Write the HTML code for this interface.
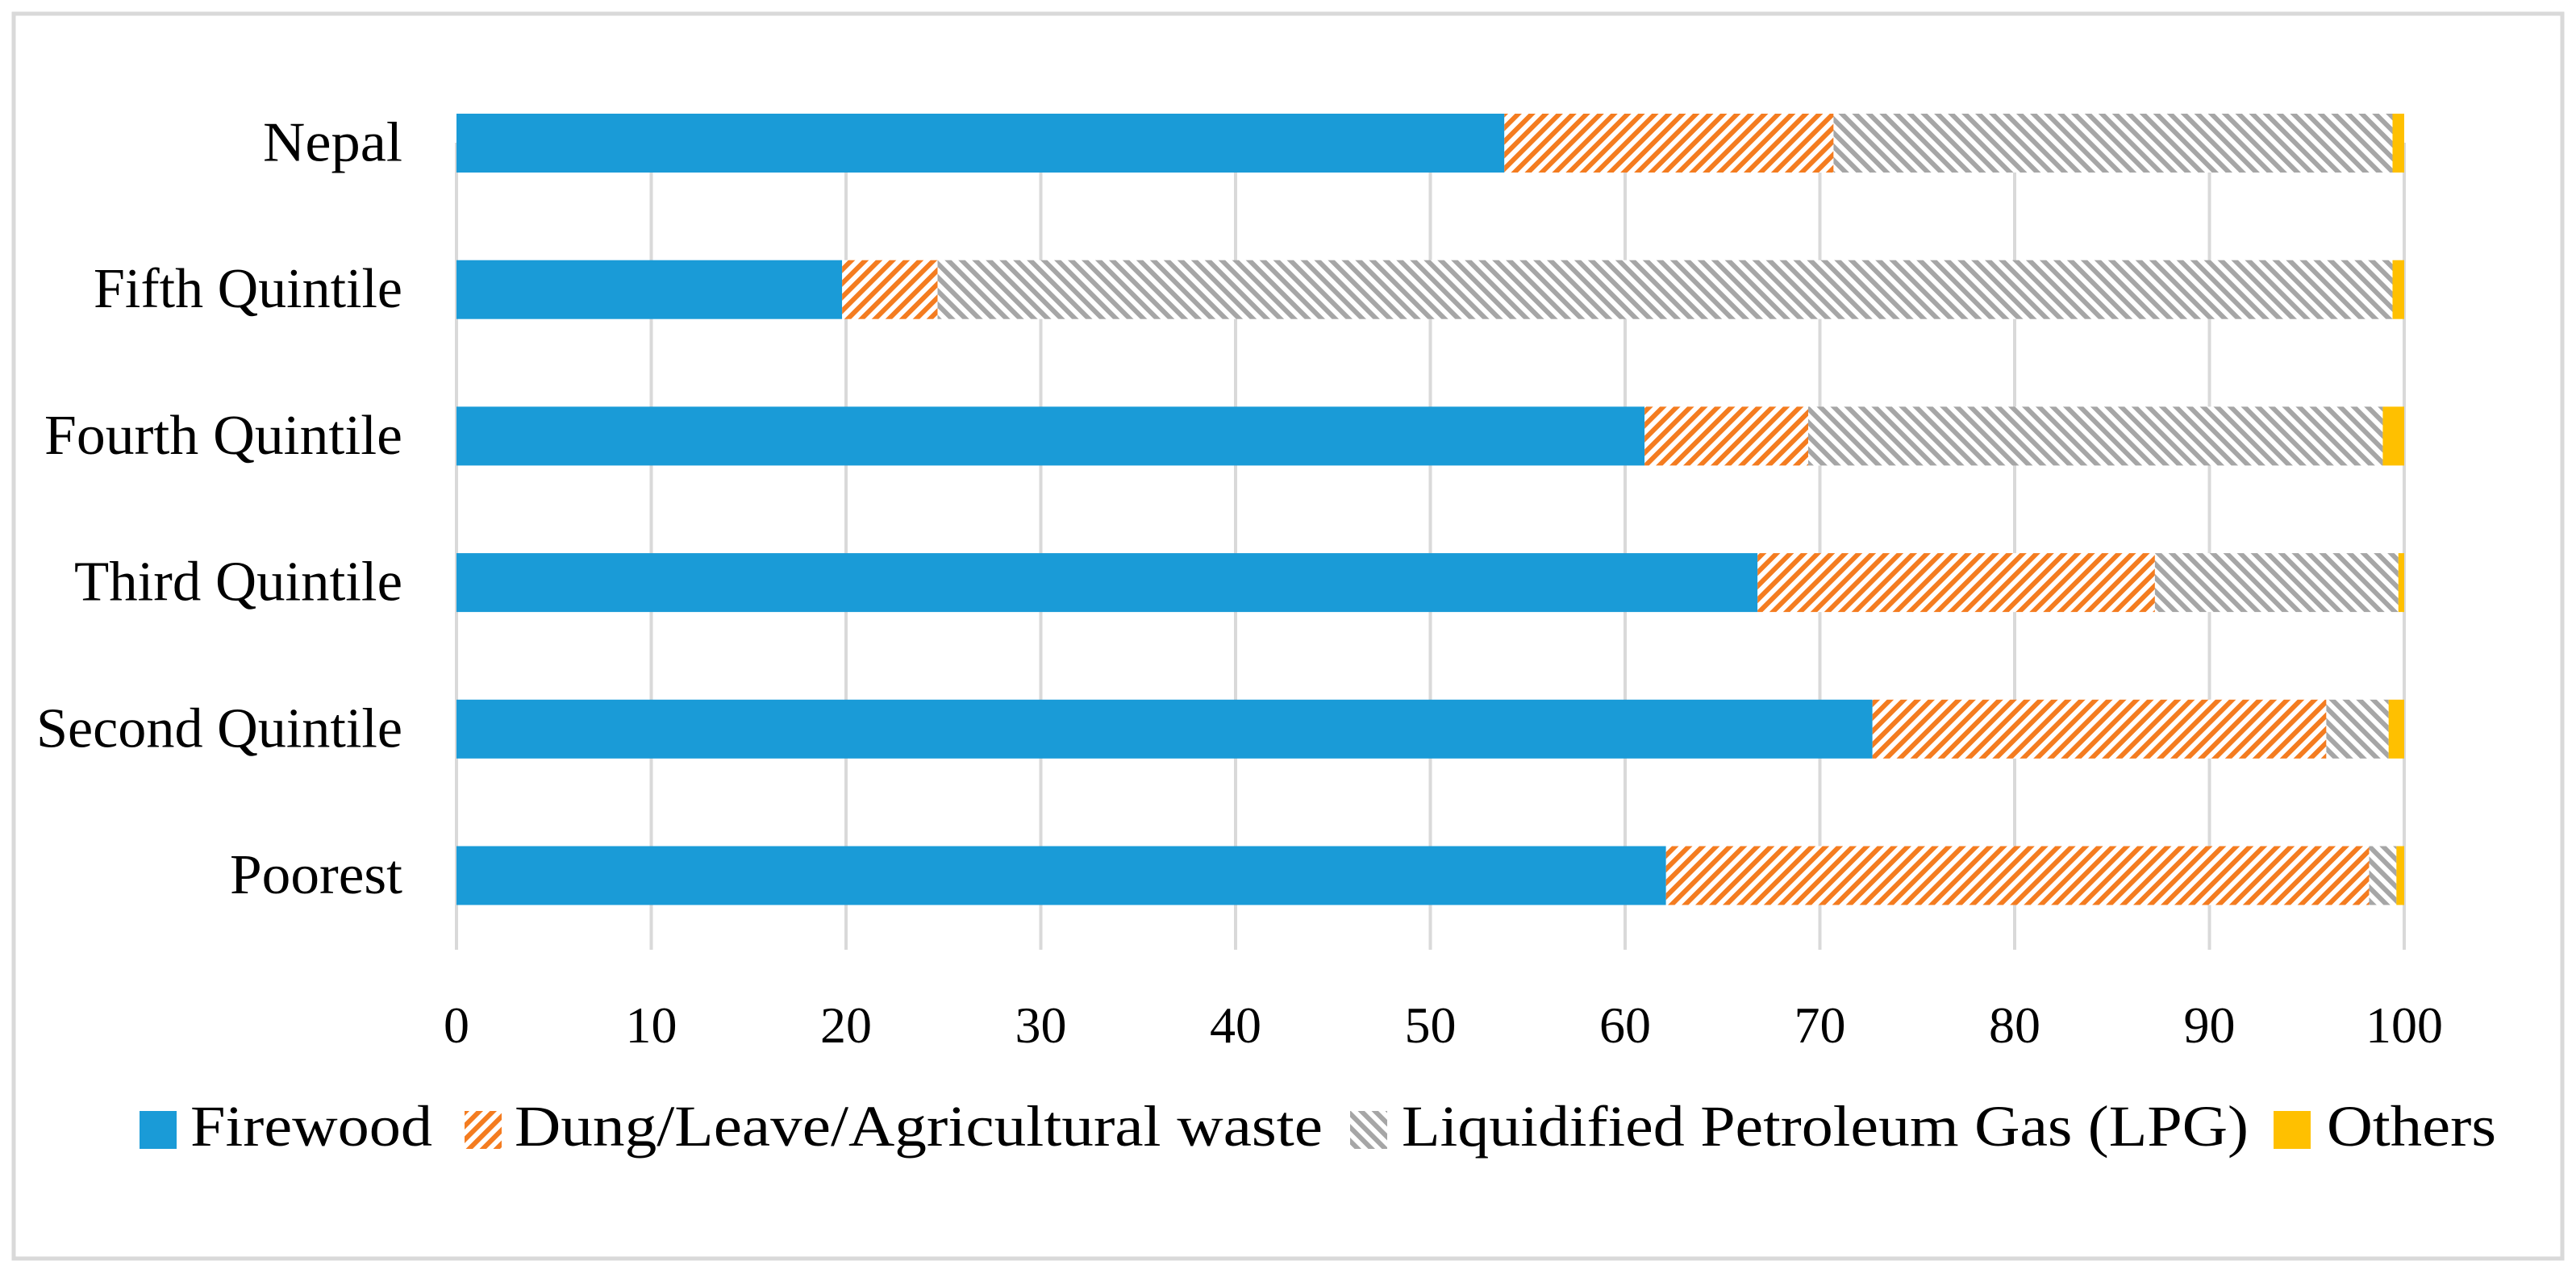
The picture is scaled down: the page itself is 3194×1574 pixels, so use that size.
<!DOCTYPE html>
<html><head><meta charset="utf-8"><style>
html,body{margin:0;padding:0;background:#fff;}
svg{display:block;font-family:"Liberation Serif",serif;}
</style></head><body>
<svg id="chart" width="3194" height="1574" viewBox="0 0 3194 1574">
<defs>
<pattern id="pOrange" patternUnits="userSpaceOnUse" width="12" height="12" patternTransform="rotate(45)">
<rect width="12" height="12" fill="#fff"/><rect x="0" y="0" width="6" height="12" fill="#f47c20"/>
</pattern>
<pattern id="pGray" patternUnits="userSpaceOnUse" width="12" height="12" patternTransform="rotate(-45)">
<rect width="12" height="12" fill="#fff"/><rect x="0" y="0" width="6" height="12" fill="#a6a6a6"/>
</pattern>
</defs>
<rect x="17" y="17" width="3160" height="1544" fill="#fff" stroke="#d9d9d9" stroke-width="5"/>
<g id="grid"></g><g id="bars"></g><g id="ylabels"></g><g id="xlabels"></g><g id="legend"></g>
</svg>
<script>
const categories = ["Nepal","Fifth Quintile","Fourth Quintile","Third Quintile","Second Quintile","Poorest"];
const firewood = [53.8, 19.8, 61.0, 66.8, 72.7, 62.1];
const dung = [16.9, 4.9, 8.4, 20.4, 23.3, 36.1];
const lpg = [28.7, 74.7, 29.5, 12.5, 3.2, 1.4];
const others = [0.6, 0.6, 1.1, 0.3, 0.8, 0.4];
const xTicks = [0,10,20,30,40,50,60,70,80,90,100];
const seriesNames = ["Firewood","Dung/Leave/Agricultural waste","Liquidified Petroleum Gas (LPG)","Others"];

const NS="http://www.w3.org/2000/svg";
const X0=566, X1=2981, rowTop=177.5, rowStep=181.7, barH=73;
function xs(v){return X0+(X1-X0)*v/100;}
function yc(i){return rowTop+i*rowStep;}
function mk(tag,attrs,parent){const e=document.createElementNS(NS,tag);for(const k in attrs)e.setAttribute(k,attrs[k]);parent.appendChild(e);return e;}

const grid=document.getElementById('grid');
xTicks.forEach(t=>{
  const l=mk('line',{x1:xs(t),x2:xs(t),y1:177,y2:1178,stroke:'#d9d9d9','stroke-width':4},grid);
  
  
});
const fills=['#1a9bd7','url(#pOrange)','url(#pGray)','#ffc000'];
const keys=['firewood','dung','lpg','others'];
const series=[firewood,dung,lpg,others];
const bars=document.getElementById('bars');
categories.forEach((c,i)=>{
  let acc=0;
  series.forEach((s,k)=>{
    const r=mk('rect',{x:xs(acc),y:yc(i)-barH/2,width:xs(acc+s[i])-xs(acc),height:barH,fill:fills[k]},bars);
    
    
    acc+=s[i];
  });
});
const labelW=[173,383,444,407,454,214];
const yl=document.getElementById('ylabels');
categories.forEach((c,i)=>{
  const t=mk('text',{x:499,y:yc(i)+22,'text-anchor':'end','font-size':70,fill:'#000',textLength:labelW[i],lengthAdjust:'spacingAndGlyphs'},yl);
  t.textContent=c;
  
  
});
const xl=document.getElementById('xlabels');
xTicks.forEach(v=>{
  const t=mk('text',{x:xs(v),y:1293,'text-anchor':'middle','font-size':64,fill:'#000'},xl);
  t.textContent=v;
  
  
});
const lg=document.getElementById('legend');
const legSq=[173,576,1674,2819], legTx=[236,638,1738,2885], legW=[300,1002,1050,210];
seriesNames.forEach((n,k)=>{
  const g=mk('g',{},lg);
  
  
  mk('rect',{x:legSq[k],y:1378,width:46,height:47,fill:fills[k]},g);
  const t=mk('text',{x:legTx[k],y:1421,'font-size':72,fill:'#000',textLength:legW[k],lengthAdjust:'spacingAndGlyphs'},g);
  t.textContent=n;
});
</script>
</body></html>
